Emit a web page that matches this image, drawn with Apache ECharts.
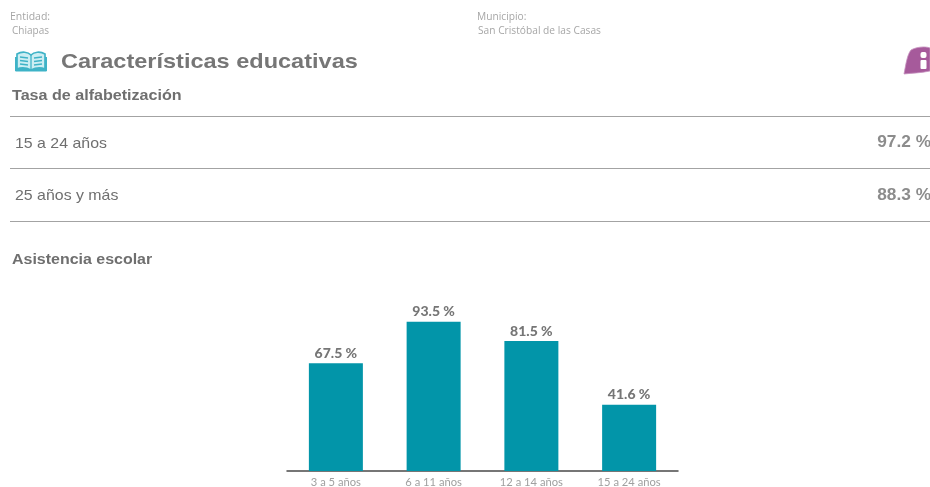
<!DOCTYPE html>
<html><head><meta charset="utf-8">
<style>html,body{margin:0;padding:0;background:#fff}#c{width:930px;height:487px}</style>
<script src="https://cdn.jsdelivr.net/npm/echarts@6/dist/echarts.min.js"></script>
</head><body><div id="c"></div>
<script>
const categories = ['3 a 5 años','6 a 11 años','12 a 14 años','15 a 24 años'];
const attendance = [67.5,93.5,81.5,41.6];
const literacyGroups = ['15 a 24 años','25 años y más'];
const literacyValues = [97.2,88.3];
const entityLabel = 'Entidad:', entityName = 'Chiapas';
const townLabel = 'Municipio:', townName = 'San Cristóbal de las Casas';
const heading = 'Características educativas';
const sub1 = 'Tasa de alfabetización', sub2 = 'Asistencia escolar';

const G = echarts.graphic;
G.registerShape('bookBody', G.extendPath('M17 54 C22 51 28 52 31 55 C34 52 40 51 45 54 L45 69 C40 67 35 68 31 70 C27 68 22 67 17 69 Z', {}));
G.registerShape('bookBack', G.extendPath('M15.5 57 L15.5 71 L46.5 71 L46.5 57', {}));
G.registerShape('bookLines', G.extendPath('M31 55 L31 70 M20 57 L28 58 M20 60.5 L28 61.5 M20 64 L28 65 M34 58 L42 57 M34 61.5 L42 60.5 M34 65 L42 64', {}));
G.registerShape('infoLeaf', G.extendPath('M904 74 C906 64 907 55 911 50 C916 47 925 46 930 48 L930 71 C921 73 912 73 904 74 Z', {}));

const chart = echarts.init(document.getElementById('c'), null, {renderer:'canvas'});
const sans = '"Liberation Sans", Arial, sans-serif';
const lato = 'Lato, "Open Sans", sans-serif';
function txt(x,y,text,font,fill,align,sx){
  return {type:'text',x,y,scaleX:sx||1,silent:true,style:{text,font,fill,align:align||'left',verticalAlign:'middle'}};
}
function hline(y){
  return {type:'line',silent:true,shape:{x1:10,y1:y,x2:930,y2:y},style:{stroke:'#a3a3a3',lineWidth:1}};
}
const small = '400 10px "Open Sans", sans-serif';
const els = [
  txt(10,17,entityLabel,small,'#a6a6a6','left',1.05),
  txt(12,31,entityName,small,'#a6a6a6','left',1),
  txt(477,17,townLabel,small,'#a6a6a6','left',1.02),
  txt(478,31,townName,small,'#a6a6a6','left',1.02),
  txt(61,62,heading,'700 21px '+sans,'#767676','left',1.12),
  txt(12,96,sub1,'700 14.5px '+sans,'#6f6f6f','left',1.11),
  hline(116.5),hline(168.5),hline(221.5),
  txt(15,144,literacyGroups[0],'400 15px '+sans,'#6f6f6f','left',1.06),
  txt(15,196,literacyGroups[1],'400 15px '+sans,'#6f6f6f','left',1.06),
  txt(931,143,literacyValues[0].toFixed(1)+' %','700 16px '+sans,'#8c8c8c','right',1.08),
  txt(931,196,literacyValues[1].toFixed(1)+' %','700 16px '+sans,'#8c8c8c','right',1.08),
  txt(12,260,sub2,'700 14px '+sans,'#6f6f6f','left',1.14),
  {type:'bookBack',silent:true,style:{fill:'#3fb3c7',stroke:'#3fb3c7',lineWidth:1}},
  {type:'bookBody',silent:true,style:{fill:'#cdeef3',stroke:'#3fb3c7',lineWidth:1.7}},
  {type:'bookLines',silent:true,style:{fill:'none',stroke:'#3fb3c7',lineWidth:1.3}},
  {type:'infoLeaf',silent:true,style:{fill:'#a65a9b',stroke:'#c792bf',lineWidth:0.8}},
  {type:'rect',silent:true,shape:{x:920.5,y:52,width:6,height:6,r:2},style:{fill:'#fff'}},
  {type:'rect',silent:true,shape:{x:920.5,y:60,width:6,height:9,r:1},style:{fill:'#fff'}}
];
chart.setOption({
  animation:false,
  backgroundColor:'#fff',
  grid:{left:287,width:391,top:311.5,height:159.5,containLabel:false,outerBoundsMode:'none'},
  xAxis:{type:'category',data:categories,
    axisLine:{lineStyle:{color:'#4a4a4a',width:1.5}},
    axisTick:{show:false},
    axisLabel:{color:'#a0a0a0',fontFamily:lato,fontSize:11.2,margin:6,interval:0}},
  yAxis:{type:'value',min:0,max:100,show:false,splitLine:{show:false}},
  series:[{type:'bar',data:attendance,barWidth:54,
    itemStyle:{color:'#0295a9'},
    label:{show:true,position:'top',distance:3,color:'#767676',fontFamily:lato,fontWeight:900,fontSize:14,
      formatter:p=>p.value.toFixed(1)+' %'}}],
  graphic:{elements:els}
});
</script></body></html>
